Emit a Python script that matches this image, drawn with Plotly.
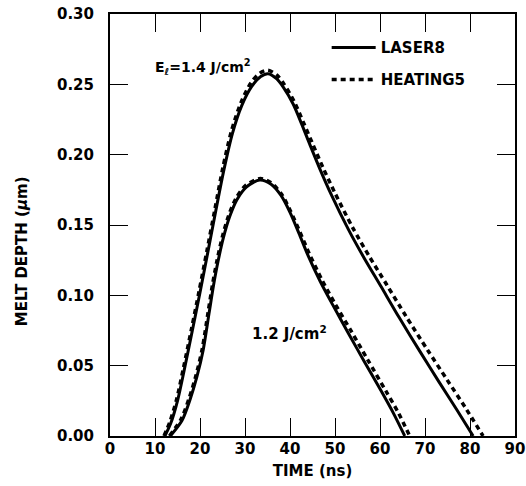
import plotly.graph_objects as go

# ---- data (time in ns, melt depth in um) ----
laser_14_t = [12.2, 13.5, 15.0, 16.5, 18.3, 20.0, 21.7, 23.5, 25.3, 27.2, 29.3, 31.5, 33.5, 35.1,
              37.0, 38.5, 40.7, 42.6, 44.4, 46.7, 49.2, 53.0, 56.5, 60.2, 64.3, 68.9, 73.0, 77.0, 80.7]
laser_14_d = [0.0, 0.009, 0.025, 0.047, 0.075, 0.102, 0.130, 0.160, 0.189, 0.215, 0.235, 0.2485,
              0.2555, 0.2575, 0.254, 0.248, 0.236, 0.2217, 0.2073, 0.1894, 0.1714, 0.1467, 0.1264,
              0.1064, 0.084, 0.060, 0.039, 0.019, 0.0]
heat_14_t = [12.0, 13.3, 14.8, 16.3, 18.1, 19.8, 21.5, 23.3, 25.1, 27.0, 29.1, 31.3, 33.3, 35.1,
             37.1, 38.6, 40.9, 42.9, 44.85, 47.3, 49.95, 53.95, 57.65, 61.5, 65.8, 70.6, 74.9, 79.0, 82.9]
heat_14_d = [0.0, 0.010, 0.026, 0.048, 0.076, 0.103, 0.131, 0.161, 0.191, 0.217, 0.237, 0.251,
             0.258, 0.260, 0.2565, 0.2505, 0.238, 0.2235, 0.209, 0.191, 0.173, 0.148, 0.1275,
             0.1075, 0.085, 0.061, 0.040, 0.020, 0.0]
laser_12_t = [13.4, 16.0, 17.8, 19.3, 20.7, 22.0, 23.0, 24.0, 25.2, 26.6, 28.2, 30.3, 33.3,
              35.8, 38.0, 40.0, 42.0, 44.0, 46.7, 49.5, 53.0, 56.5, 60.4, 63.0, 65.5]
laser_12_d = [0.0, 0.011, 0.026, 0.042, 0.061, 0.087, 0.107, 0.124, 0.141, 0.156, 0.168, 0.177,
              0.182, 0.179, 0.171, 0.159, 0.144, 0.1284, 0.110, 0.0932, 0.0729, 0.053, 0.0312,
              0.0161, 0.0]
heat_12_t = [13.2, 15.8, 17.6, 19.1, 20.5, 21.8, 22.8, 23.8, 25.0, 26.4, 28.0, 30.1, 33.4,
             35.8, 38.1, 40.1, 42.2, 44.3, 47.1, 50.0, 53.7, 57.3, 61.3, 64.0, 66.6]
heat_12_d = [0.0, 0.012, 0.027, 0.043, 0.062, 0.088, 0.108, 0.125, 0.142, 0.157, 0.169, 0.178,
             0.183, 0.180, 0.172, 0.160, 0.145, 0.1295, 0.111, 0.094, 0.074, 0.054, 0.032,
             0.017, 0.0]

x_ticks = [0, 10, 20, 30, 40, 50, 60, 70, 80, 90]
y_ticks = [0.00, 0.05, 0.10, 0.15, 0.20, 0.25, 0.30]

FONT = "DejaVu Sans"


def f(size):
    return dict(family=FONT, size=size, color="black", weight="bold")


solid = dict(color="black", width=3, shape="spline", smoothing=0.8)
dashed = dict(color="black", width=3.5, dash="5px,4px", shape="spline", smoothing=0.8)

fig = go.Figure()
fig.add_trace(go.Scatter(x=laser_14_t, y=laser_14_d, mode="lines", line=solid,
                         name="LASER8", legend="legend"))
fig.add_trace(go.Scatter(x=heat_14_t, y=heat_14_d, mode="lines", line=dashed,
                         name="HEATING5", legend="legend2"))
fig.add_trace(go.Scatter(x=laser_12_t, y=laser_12_d, mode="lines", line=solid,
                         showlegend=False))
fig.add_trace(go.Scatter(x=heat_12_t, y=heat_12_d, mode="lines", line=dashed,
                         showlegend=False))

axis_common = dict(showline=True, linecolor="black", linewidth=2, mirror="ticks",
                   ticks="inside", ticklen=18, tickwidth=1, tickcolor="black",
                   showgrid=False, zeroline=False, tickfont=f(15), automargin=False)

fig.update_layout(
    width=526, height=486,
    margin=dict(l=110, r=11, t=14, b=50),
    paper_bgcolor="white", plot_bgcolor="white",
    xaxis=dict(range=[0, 90], tickvals=x_ticks, ticktext=[str(v) for v in x_ticks],
               ticklabelstandoff=-2,
               title=dict(text="TIME (ns)", standoff=8, font=f(15)),
               **axis_common),
    yaxis=dict(range=[0, 0.30], tickvals=y_ticks, ticktext=[f"{v:.2f}" for v in y_ticks],
               ticklabelstandoff=11, **axis_common),
    legend=dict(x=0.535, y=0.92, xanchor="left", yanchor="middle", bgcolor="rgba(0,0,0,0)",
                itemwidth=44, font=f(15)),
    legend2=dict(x=0.535, y=0.844, xanchor="left", yanchor="middle", bgcolor="rgba(0,0,0,0)",
                 itemwidth=44, font=f(15)),
    showlegend=True,
)

fig.add_annotation(x=-0.217, y=0.438, xref="paper", yref="paper", showarrow=False,
                   xanchor="center", yanchor="middle",
                   textangle=-90, text="MELT DEPTH (<i>μ</i>m)", font=f(15))
fig.add_annotation(x=20.7, y=0.262, xref="x", yref="y", showarrow=False,
                   text="E<sub><i>ℓ</i></sub>=1.4 J/cm<sup>2</sup>", font=f(14))
fig.add_annotation(x=39.8, y=0.073, xref="x", yref="y", showarrow=False,
                   text="1.2 J/cm<sup>2</sup>", font=f(15))

fig.write_html("out.html")
